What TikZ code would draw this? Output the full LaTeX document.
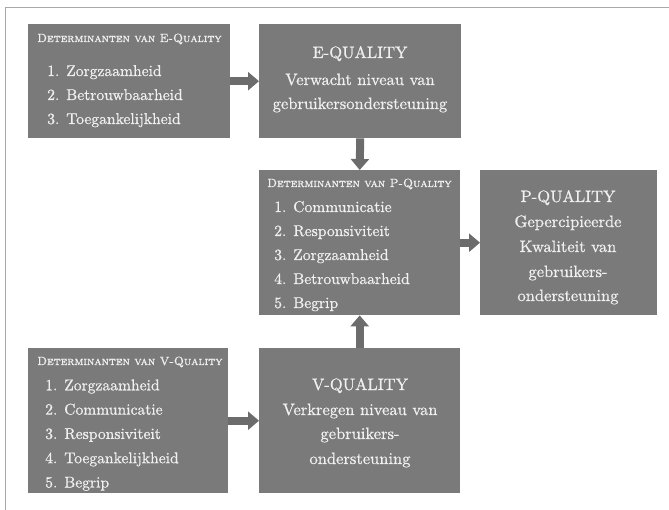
\documentclass[tikz,border=0pt]{standalone}
\usepackage{fontspec}
\newfontfamily\semib{lmroman10-regular.otf}[FakeBold=0.7, SmallCapsFont=lmromancaps10-regular.otf, SmallCapsFeatures={FakeBold=1.4}]
\usetikzlibrary{arrows.meta}
\definecolor{boxgray}{HTML}{7A7A7A}
\definecolor{arrowgray}{HTML}{6C6C6C}
\definecolor{txtc}{HTML}{F0F0F0}
\definecolor{framegray}{HTML}{A8A8A8}
\begin{document}
\begin{tikzpicture}[x=1pt,y=-1pt,
  box/.style={fill=boxgray, draw=none, inner sep=0pt, anchor=north west},
  hdr/.style={text=txtc, inner sep=0pt, anchor=base west, font=\semib\fontsize{11.9}{13}\selectfont},
  item/.style={text=txtc, inner sep=0pt, anchor=base west, font=\semib\fontsize{15.6}{17}\selectfont},
  ctext/.style={text=txtc, inner sep=0pt, anchor=base, font=\semib\fontsize{16.5}{18}\selectfont},
  bigarrow/.style={draw=arrowgray, line width=8pt, -{Triangle[width=18pt,length=11pt,fill=arrowgray]}}
]
\useasboundingbox (0,0) rectangle (669,510);
% frame
\draw[framegray, line width=1pt] (5,510) -- (5,8) -- (669,8);

% boxes
\node[box, minimum width=202pt, minimum height=114pt] (edet)  at (28,24)  {};
\node[box, minimum width=202pt, minimum height=114pt] (equal) at (259,24) {};
\node[box, minimum width=201pt, minimum height=145pt] (pdet)  at (259,170) {};
\node[box, minimum width=177pt, minimum height=145pt] (pqual) at (480,170) {};
\node[box, minimum width=200pt, minimum height=145pt] (vdet)  at (28,348) {};
\node[box, minimum width=201pt, minimum height=145pt] (vqual) at (259,348) {};

% E determinants
\node[hdr] (edet-h) at (37,42) {\textsc{Determinanten van E-Quality}};
\foreach \t [count=\i] in {1. Zorgzaamheid, 2. Betrouwbaarheid, 3. Toegankelijkheid}
  \node[item] (edet-\i) at (47,52+24*\i) {\t};

% E-quality
\node[ctext] (equal-1) at (360,58)  {E-QUALITY};
\node[ctext] (equal-2) at (360,85)  {Verwacht niveau van};
\node[ctext] (equal-3) at (360,109) {gebruikersondersteuning};

% P determinants
\node[hdr] (pdet-h) at (267,187) {\textsc{Determinanten van P-Quality}};
\foreach \t [count=\i] in {1. Communicatie, 2. Responsiviteit, 3. Zorgzaamheid, 4. Betrouwbaarheid, 5. Begrip}
  \node[item] (pdet-\i) at (274,188+24*\i) {\t};

% P-quality
\node[ctext] (pqual-1) at (568,202) {P-QUALITY};
\node[ctext] (pqual-2) at (568,227) {Gepercipieerde};
\node[ctext] (pqual-3) at (568,252) {Kwaliteit van};
\node[ctext] (pqual-4) at (568,277) {gebruikers-};
\node[ctext] (pqual-5) at (568,301) {ondersteuning};

% V determinants
\node[hdr] (vdet-h) at (37,365) {\textsc{Determinanten van V-Quality}};
\foreach \t [count=\i] in {1. Zorgzaamheid, 2. Communicatie, 3. Responsiviteit, 4. Toegankelijkheid, 5. Begrip}
  \node[item] (vdet-\i) at (45,366+24.3*\i) {\t};

% V-quality
\node[ctext] (vqual-1) at (360,390) {V-QUALITY};
\node[ctext] (vqual-2) at (360,415) {Verkregen niveau van};
\node[ctext] (vqual-3) at (360,439) {gebruikers-};
\node[ctext] (vqual-4) at (360,464) {ondersteuning};

% arrows
\draw[bigarrow] (edet.east) -- (equal.west);
\draw[bigarrow] (equal.south) -- (pdet.north);
\draw[bigarrow] (pdet.east) -- (pqual.west);
\draw[bigarrow] (vqual.north) -- (pdet.south);
\draw[bigarrow] (vdet.east) -- (vqual.west);
\end{tikzpicture}
\end{document}
